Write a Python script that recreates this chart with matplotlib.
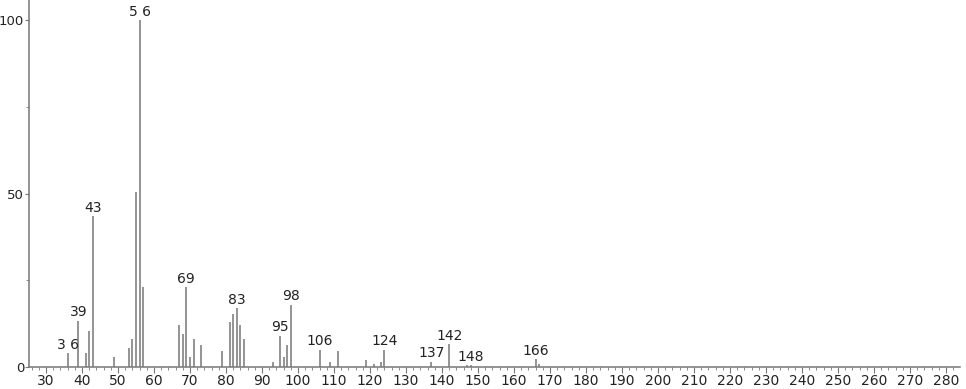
import matplotlib
matplotlib.use("Agg")
import matplotlib.pyplot as plt
from matplotlib.ticker import MultipleLocator

# m/z peaks and relative intensity
mz = [36, 39, 41, 42, 43, 49, 53, 54, 55, 56, 57,
      67, 68, 69, 70, 71, 73, 79, 81, 82, 83, 84, 85,
      93, 95, 96, 97, 98, 106, 109, 111, 119, 121, 123, 124,
      137, 142, 147, 148, 166, 167]
intensity = [4.0, 13.3, 4.0, 10.4, 43.5, 3.0, 5.5, 8.0, 50.4, 100.0, 23.0,
             12.0, 9.4, 23.0, 3.0, 8.0, 6.4, 4.6, 13.0, 15.3, 17.0, 12.0, 8.0,
             1.5, 9.0, 3.0, 6.4, 18.0, 5.0, 1.5, 4.6, 2.0, 1.0, 1.5, 5.0,
             1.5, 6.6, 0.5, 0.6, 2.3, 1.0]
labelled = [36, 39, 43, 56, 69, 83, 95, 98, 106, 124, 137, 142, 148, 166]
label_text = ["3 6", "39", "43", "5 6", "69", "83", "95", "98", "106", "124",
              "137", "142", "148", "166"]

fig = plt.figure(figsize=(9.66, 3.89), dpi=100)
ax = fig.add_axes([29 / 966, 22 / 389, 931 / 966, 367 / 389])

ax.vlines(mz, 0, intensity, color="#777777", linewidth=1.1)

for m, t in zip(labelled, label_text):
    h = intensity[mz.index(m)]
    ax.annotate(t, (m, h), xytext=(0, 1), textcoords="offset points",
                ha="center", va="bottom", fontsize=10, color="#222222")

ax.set_xlim(25.3, 283.9)
ax.set_ylim(0, 105.8)
ax.xaxis.set_major_locator(MultipleLocator(10))
ax.xaxis.set_minor_locator(MultipleLocator(2))
ax.set_xticks(range(30, 290, 10))
ax.set_yticks([0, 50, 100])
ax.yaxis.set_minor_locator(MultipleLocator(25))

for s in ["top", "right"]:
    ax.spines[s].set_visible(False)
for s in ["left", "bottom"]:
    ax.spines[s].set_color("#777777")
    ax.spines[s].set_linewidth(1.1)

ax.tick_params(axis="x", which="major", length=4, color="#777777",
               labelsize=10, labelcolor="#222222", pad=1)
ax.tick_params(axis="y", which="major", length=3, color="#777777",
               labelsize=9.5, labelcolor="#222222", pad=0.5)
ax.tick_params(axis="both", which="minor", length=2.5, color="#777777")

fig.savefig("out.png", dpi=100)
